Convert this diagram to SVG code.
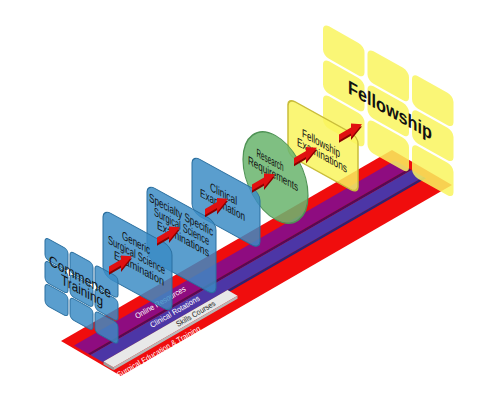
<svg xmlns="http://www.w3.org/2000/svg" xmlns:xlink="http://www.w3.org/1999/xlink" width="500" height="414" viewBox="0 0 500 414">
<defs>
<style>
.pt{font-family:"Liberation Sans",Arial,sans-serif;font-size:12px;fill:#111;text-anchor:middle}
.st{font-family:"Liberation Sans",Arial,sans-serif;font-size:8px}
.blue{fill:#3a8cc5;fill-opacity:.84;stroke:#2a6f9f;stroke-width:1}
.yel{fill:#f9f55e;fill-opacity:.85}
.grn{fill:#6cb56f;fill-opacity:.87;stroke:#4f9355;stroke-width:1.2}
.adark{fill:#8a0000}
.abright{fill:#e01010}
</style>
<path id="arr" d="M0,-3 L12,-3 L12,-7.2 L23,0 L12,7.2 L12,3 L0,3 Z"/>
</defs>
<rect width="500" height="414" fill="#fff"/>

<g id="platform">
<polygon points="61,341 121,376 452,185 392,150" fill="#f00d0d"/>
<polygon points="74,345.6 88,353.7 409,168.5 395,160.4" fill="#8e0c80"/>
<polygon points="88,353.7 90.5,355.1 411.5,170 409,168.5" fill="#560a54"/>
<polygon points="90.5,355.1 102.5,362 423.5,176.9 411.5,170" fill="#4c36a6"/>
<polygon points="102.5,362 105,363.5 426,178.3 423.5,176.9" fill="#2e2272"/>
<polygon points="103.5,361.5 113.5,367.3 113.5,370.3 103.5,364.5" fill="#9a9a9a"/>
<polygon points="103.5,361.5 113.5,367.3 237.5,295.8 227.5,290" fill="#e8e8e8"/>
<polygon points="113.5,367.3 237.5,295.8 237.5,298.8 113.5,370.3" fill="#b8b8b8"/>
<text class="st" fill="#fff" transform="translate(137,319) rotate(-30)" textLength="57" lengthAdjust="spacingAndGlyphs">Online Resources</text>
<text class="st" fill="#fff" transform="translate(152,328) rotate(-30)" textLength="56" lengthAdjust="spacingAndGlyphs">Clinical Rotations</text>
<text class="st" fill="#222" transform="translate(178,327) rotate(-30)" textLength="44" lengthAdjust="spacingAndGlyphs">Skills Courses</text>
<text class="st" fill="#fff" style="font-size:8.5px" transform="translate(119,378) rotate(-30)" textLength="95" lengthAdjust="spacingAndGlyphs">Surgical Education &amp; Training</text>
</g>

<g id="fellowship" transform="matrix(1,0.56,0,1,323,23)">
<rect class="yel" x="0" y="0" width="41.5" height="32.5" rx="6"/>
<rect class="yel" x="0" y="35" width="41.5" height="32.5" rx="6"/>
<rect class="yel" x="0" y="70" width="41.5" height="32.5" rx="6"/>
<rect class="yel" x="44.5" y="0" width="41.5" height="32.5" rx="6"/>
<rect class="yel" x="44.5" y="35" width="41.5" height="32.5" rx="6"/>
<rect class="yel" x="44.5" y="70" width="41.5" height="32.5" rx="6"/>
<rect class="yel" x="89" y="0" width="41.5" height="32.5" rx="6"/>
<rect class="yel" x="89" y="35" width="41.5" height="32.5" rx="6"/>
<rect class="yel" x="89" y="70" width="41.5" height="32.5" rx="6"/>
<text class="pt" x="67" y="56" style="font-size:19px;font-weight:bold" textLength="84" lengthAdjust="spacingAndGlyphs">Fellowship</text>
</g>

<g id="fellowship-examinations" transform="matrix(1,0.55,0,1,288,98)">
<rect x="0" y="0" width="70" height="57" rx="7" fill="#f9f55e" fill-opacity=".85" stroke="#c9bd3a" stroke-width="1.5"/>
<text class="pt" x="33" y="31" textLength="38" lengthAdjust="spacingAndGlyphs">Fellowship</text>
<text class="pt" x="34" y="42.5" textLength="50" lengthAdjust="spacingAndGlyphs">Examinations</text>
</g>

<g id="research-requirements" transform="matrix(1,0.55,0,1,275.5,177.5)">
<ellipse class="grn" cx="0" cy="0" rx="32.5" ry="42"/>
<text class="pt" x="-5.5" y="-10.5" textLength="27" lengthAdjust="spacingAndGlyphs">Research</text>
<text class="pt" x="-2.5" y="1.5" textLength="50" lengthAdjust="spacingAndGlyphs">Requirements</text>
</g>

<g id="clinical-examination" transform="matrix(1,0.55,0,1,192,155)">
<rect class="blue" x="0" y="0" width="68" height="57" rx="8"/>
<text class="pt" x="31.5" y="25.5" textLength="27" lengthAdjust="spacingAndGlyphs">Clinical</text>
<text class="pt" x="30.5" y="37" textLength="45" lengthAdjust="spacingAndGlyphs">Examination</text>
</g>

<g id="specialty-specific" transform="matrix(1,0.55,0,1,147,184)">
<rect class="blue" x="0" y="0" width="69" height="74" rx="8"/>
<text class="pt" x="34" y="16" textLength="64" lengthAdjust="spacingAndGlyphs">Specialty Specific</text>
<text class="pt" x="34.5" y="27.5" textLength="55" lengthAdjust="spacingAndGlyphs">Surgical Science</text>
<text class="pt" x="36" y="39" textLength="52" lengthAdjust="spacingAndGlyphs">Examinations</text>
</g>

<g id="generic-surgical" transform="matrix(1,0.55,0,1,103,209)">
<rect class="blue" x="0" y="0" width="69" height="66" rx="8"/>
<text class="pt" x="33" y="19.5" textLength="28" lengthAdjust="spacingAndGlyphs">Generic</text>
<text class="pt" x="33.5" y="31.5" textLength="57" lengthAdjust="spacingAndGlyphs">Surgical Science</text>
<text class="pt" x="36" y="43.5" textLength="50" lengthAdjust="spacingAndGlyphs">Examination</text>
</g>

<g id="commence-training" transform="matrix(1,0.55,0,1,45,237)">
<rect class="blue" x="0" y="0" width="23" height="21.5" rx="4"/>
<rect class="blue" x="0" y="23" width="23" height="21.5" rx="4"/>
<rect class="blue" x="0" y="46" width="23" height="21.5" rx="4"/>
<rect class="blue" x="25" y="0" width="23" height="21.5" rx="4"/>
<rect class="blue" x="25" y="23" width="23" height="21.5" rx="4"/>
<rect class="blue" x="25" y="46" width="23" height="21.5" rx="4"/>
<rect class="blue" x="50" y="0" width="23" height="21.5" rx="4"/>
<rect class="blue" x="50" y="23" width="23" height="21.5" rx="4"/>
<rect class="blue" x="50" y="46" width="23" height="21.5" rx="4"/>
<text class="pt" x="35" y="25.5" style="font-size:14.5px" textLength="62" lengthAdjust="spacingAndGlyphs">Commence</text>
<text class="pt" x="37" y="38" style="font-size:14.5px" textLength="42" lengthAdjust="spacingAndGlyphs">Training</text>
</g>

<g id="connectors">
<g transform="matrix(1,-0.577,0,1,109,269.5)"><use xlink:href="#arr" class="adark" y="2.2"/><use xlink:href="#arr" class="abright"/></g>
<g transform="matrix(1,-0.577,0,1,157,240.5)"><use xlink:href="#arr" class="adark" y="2.2"/><use xlink:href="#arr" class="abright"/></g>
<g transform="matrix(1,-0.577,0,1,205,212)"><use xlink:href="#arr" class="adark" y="2.2"/><use xlink:href="#arr" class="abright"/></g>
<g transform="matrix(1,-0.577,0,1,252,187.5)"><use xlink:href="#arr" class="adark" y="2.2"/><use xlink:href="#arr" class="abright"/></g>
<g transform="matrix(1,-0.577,0,1,294,161)"><use xlink:href="#arr" class="adark" y="2.2"/><use xlink:href="#arr" class="abright"/></g>
<g transform="matrix(1,-0.577,0,1,339,137.5)"><use xlink:href="#arr" class="adark" y="2.2"/><use xlink:href="#arr" class="abright"/></g>
</g>
</svg>
